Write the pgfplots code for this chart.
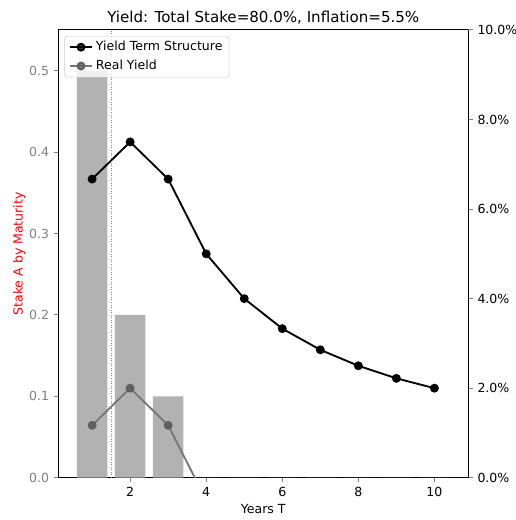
\documentclass[border=0pt]{standalone}
\usepackage{fontspec}
\setmainfont{DejaVu Sans}
\usepackage{pgfplots}
\pgfplotsset{compat=1.18}
\definecolor{barc}{RGB}{178,178,178}
\definecolor{realc}{RGB}{95,95,95}
\definecolor{tickgray}{RGB}{128,128,128}
\begin{document}
\begin{tikzpicture}[font=\fontsize{9.4}{11.3}\selectfont]
\useasboundingbox (-43.7pt,-31.7pt) rectangle (343.3pt,358.3pt);
\begin{axis}[
  at={(0,0)}, anchor=south west,
  width=307.5pt, height=335.8pt, scale only axis,
  xmin=0.11, xmax=10.89, ymin=0, ymax=0.55,
  xtick={2,4,6,8,10}, ytick={0,0.1,0.2,0.3,0.4,0.5},
  xtick pos=bottom, ytick pos=left,
  tick align=outside, major tick length=3.4pt,
  tick style={line width=0.75pt},
  axis line style={line width=0.75pt},
  /pgf/number format/assume math mode=true,
  scaled ticks=false,
  yticklabel={\pgfmathprintnumber[fixed,fixed zerofill,precision=1]{\tick}},
  yticklabel style={text=tickgray},
  ytick style={tickgray},
  ylabel={Stake A by Maturity}, ylabel style={text=red, yshift=-4pt},
  xlabel={Years T}, xlabel style={yshift=1pt},
  title={Yield: Total Stake=80.0\%, Inflation=5.5\%},
  title style={font=\fontsize{11.3}{13.5}\selectfont, yshift=-5pt},
]
\addplot[ybar, bar width=0.8, fill=barc, draw=none] coordinates {
  (1,0.5) (2,0.2) (3,0.1) (4,0) (5,0) (6,0) (7,0) (8,0) (9,0) (10,0)};
\addplot[tickgray, line width=0.7pt, dash pattern=on 0.7pt off 1.2pt] coordinates {(1.5,0) (1.5,0.55)};
\end{axis}
\begin{axis}[
  at={(0,0)}, anchor=south west,
  width=307.5pt, height=335.8pt, scale only axis,
  xmin=0.11, xmax=10.89, ymin=0, ymax=10,
  axis x line=none, axis y line*=right,
  ytick={0,2,4,6,8,10},
  tick align=outside, major tick length=3.4pt,
  tick style={line width=0.75pt},
  axis line style={line width=0.75pt},
  /pgf/number format/assume math mode=true,
  yticklabel={\pgfmathprintnumber[fixed,fixed zerofill,precision=1]{\tick}\%},
  legend style={at={(0.015,0.987)}, anchor=north west, fill=white, fill opacity=0.8, text opacity=1, draw=black!20, rounded corners=2pt, font=\fontsize{9.4}{11.3}\selectfont, row sep=1.5pt, inner ysep=2pt},
  legend cell align=left,
]
\addplot[black, line width=1.4pt, mark=*, mark size=2.6pt] coordinates {
  (1,6.67) (2,7.5) (3,6.67) (4,5.0) (5,4.0) (6,3.33) (7,2.857) (8,2.5) (9,2.22) (10,2.0)};
\addlegendentry{Yield Term Structure}
\addplot[realc!85!white, line width=1.4pt, mark=*, mark size=2.6pt, mark options={fill=realc, draw=realc}] coordinates {
  (1,1.17) (2,2.0) (3,1.17) (4,-0.5) (5,-1.5) (6,-2.17) (7,-2.643) (8,-3.0) (9,-3.28) (10,-3.5)};
\addlegendentry{Real Yield}
\end{axis}
\end{tikzpicture}
\end{document}
